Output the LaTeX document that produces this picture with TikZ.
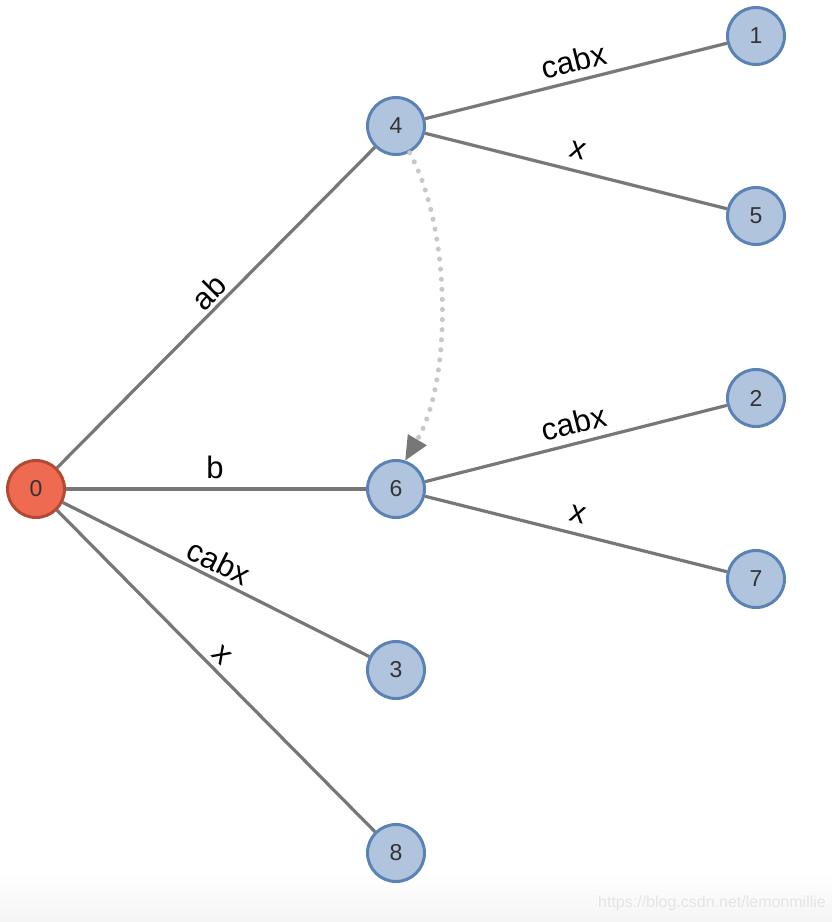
\documentclass[tikz,border=0pt]{standalone}
\usepackage{fontspec}
\setmainfont{Liberation Sans}
\usetikzlibrary{arrows.meta,shadings}
\definecolor{edgegray}{HTML}{777777}
\definecolor{nodefill}{HTML}{B0C4DE}
\definecolor{nodeborder}{HTML}{5A82B4}
\definecolor{rootfill}{HTML}{EE6A50}
\definecolor{rootborder}{HTML}{B04A35}
\definecolor{dotgray}{HTML}{C8C8C8}
\tikzset{
  vert/.style={circle, minimum size=57pt, inner sep=0pt, fill=nodefill, draw=nodeborder, line width=3pt, text=black!80, font=\fontsize{23}{23}\selectfont},
  rootvert/.style={vert, fill=rootfill, draw=rootborder},
  edge/.style={draw=edgegray, line width=3.2pt},
  elabel/.style={font=\fontsize{31}{31}\selectfont, text=black, inner sep=1pt},
  link/.style={draw=dotgray, line width=5pt, dash pattern=on 0.1pt off 10pt, line cap=round, -{Triangle[length=24pt,width=22pt,fill=edgegray,color=edgegray,line width=0pt]}}
}
\begin{document}
\begin{tikzpicture}[x=1pt,y=-1pt]
\useasboundingbox (0,0) rectangle (832,922);
\shade[top color=white, bottom color=black!4] (0,872) rectangle (832,922);
\node[rootvert] (n0) at (36,489) {0};
\node[vert] (n4) at (396,126) {4};
\node[vert] (n6) at (396,489) {6};
\node[vert] (n3) at (396,670) {3};
\node[vert] (n8) at (396,853) {8};
\node[vert] (n1) at (756,36) {1};
\node[vert] (n5) at (756,216) {5};
\node[vert] (n2) at (756,398) {2};
\node[vert] (n7) at (756,579) {7};
\draw[edge] (n0) -- (n4);
\draw[edge] (n0) -- (n6);
\draw[edge] (n0) -- (n3);
\draw[edge] (n0) -- (n8);
\draw[edge] (n4) -- (n1);
\draw[edge] (n4) -- (n5);
\draw[edge] (n6) -- (n2);
\draw[edge] (n6) -- (n7);
\node[elabel, rotate=45] (lab) at (209,292) {ab};
\node[elabel] (lb) at (215,467) {b};
\node[elabel, rotate=-26.7] (lc0) at (219,562) {cabx};
\node[elabel, rotate=-45] (lx0) at (222,655) {x};
\node[elabel, rotate=14] (lc4) at (574,61) {cabx};
\node[elabel, rotate=-14] (lx4) at (578,150) {x};
\node[elabel, rotate=14] (lc6) at (574,423) {cabx};
\node[elabel, rotate=-14] (lx6) at (578,514) {x};
\draw[link] (n4.-63) .. controls (452,230) and (452,380) .. (n6.72);
\node[font=\fontsize{16}{16}\selectfont, text=black!10] (wm) at (712,903) {https://blog.csdn.net/lemonmillie};
\end{tikzpicture}
\end{document}
